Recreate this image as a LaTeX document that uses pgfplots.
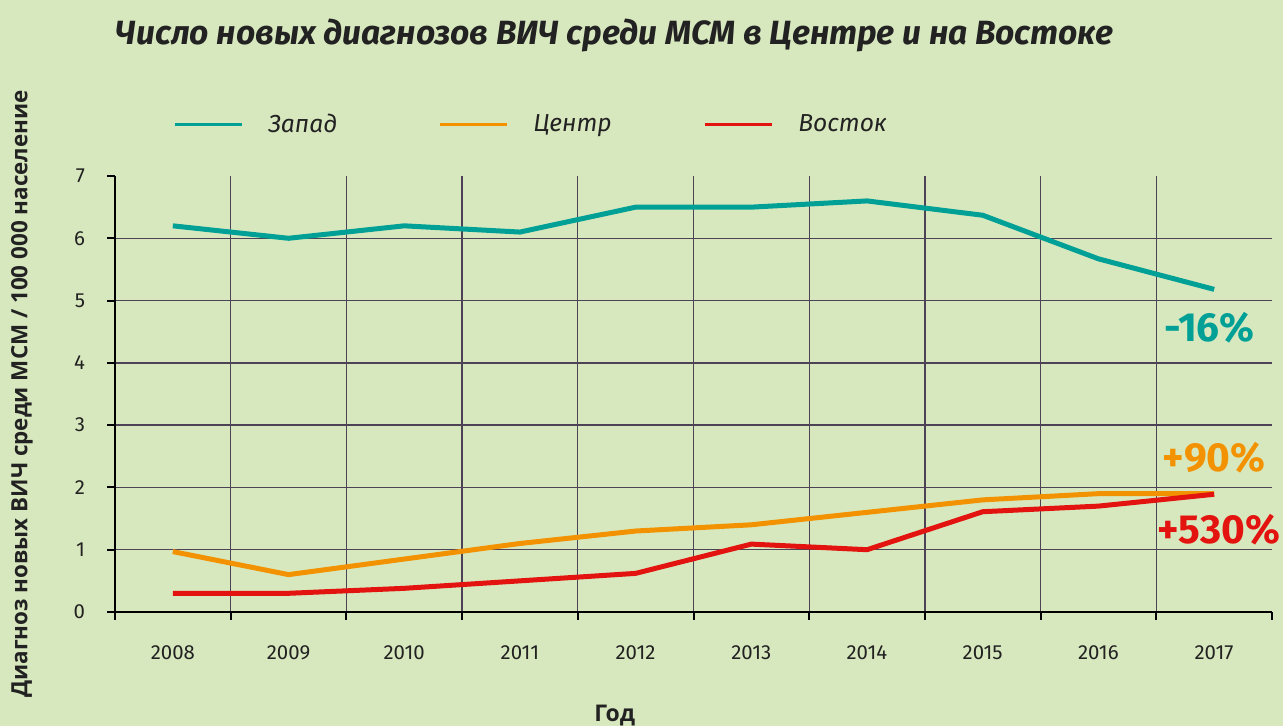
\documentclass[border=0pt]{standalone}
\usepackage{fontspec}
\usepackage{pgfplots}
\pgfplotsset{compat=1.18}
\setmainfont{Fira Sans}
\newfontfamily\lblfont{Open Sans}
\definecolor{bgc}{HTML}{D8E8BE}
\definecolor{cWest}{HTML}{00A096}
\definecolor{cCenter}{HTML}{F39200}
\definecolor{cEast}{HTML}{E3140F}
\definecolor{gridc}{HTML}{4E4257}
\definecolor{txt}{HTML}{222222}
\begin{document}
\begin{tikzpicture}
\fill[bgc] (0,0) rectangle (641.5pt,363pt);
\begin{axis}[
  scale only axis, width=578.5pt, height=218pt,
  at={(57.5pt,57pt)}, anchor=south west,
  xmin=2007.5, xmax=2017.5, ymin=0, ymax=7,
  axis lines=left,
  axis line style={-, black, line width=1pt},
  tick align=outside,
  major tick length=4pt, minor tick length=4pt,
  xtick={2008,...,2017},
  xticklabels={2008,2009,2010,2011,2012,2013,2014,2015,2016,2017},
  major x tick style={draw=none},
  minor xtick={2008.5,2009.5,2010.5,2011.5,2012.5,2013.5,2014.5,2015.5,2016.5},
  minor x tick style={black, line width=1pt},
  xminorgrids=true,
  minor grid style={gridc, line width=0.65pt},
  extra x ticks={2007.5,2017.5},
  extra x tick labels={},
  extra x tick style={grid=none, major x tick style={draw=black, line width=1pt}},
  ytick={0,1,2,3,4,5,6},
  extra y ticks={7},
  extra y tick style={grid=none},
  ymajorgrids=true,
  major grid style={gridc, line width=0.65pt},
  y tick style={black, line width=1pt},
  /pgf/number format/assume math mode=true,
  tick label style={font=\fontsize{10.2}{12}\selectfont, text=txt},
  yticklabel style={xshift=-7.5pt},
  xticklabel style={yshift=-9.5pt},
  ylabel={Диагноз новых ВИЧ среди МСМ / 100 000 население},
  ylabel style={at={(axis description cs:-0.0804,0.5)}, anchor=center, font=\lblfont\bfseries\fontsize{11.2}{12}\selectfont, text=txt},
  legend columns=3,
  legend cell align=left,
  legend style={at={(axis description cs:0.05,1.117)}, anchor=west, draw=none, fill=none,
    inner sep=0pt, font=\itshape\fontsize{12.3}{14}\selectfont, text=txt,
    nodes={text width=85pt, inner sep=0pt},
    /tikz/every odd column/.append style={column sep=12.5pt}},
  legend image code/.code={\draw[#1, line width=1.5pt] (0pt,0pt) -- (33.5pt,0pt);},
  clip=false,
]
\addplot[cWest, line width=2.5pt, line join=round] coordinates {
  (2008,6.2) (2009,6.0) (2010,6.2) (2011,6.1) (2012,6.5) (2013,6.5) (2014,6.6) (2015,6.37) (2016,5.67) (2017,5.18)};
\addlegendentry{Запад}
\addplot[cCenter, line width=2.5pt, line join=round] coordinates {
  (2008,0.97) (2009,0.6) (2010,0.85) (2011,1.1) (2012,1.3) (2013,1.4) (2014,1.6) (2015,1.8) (2016,1.9) (2017,1.9)};
\addlegendentry{Центр}
\addplot[cEast, line width=2.5pt, line join=round] coordinates {
  (2008,0.3) (2009,0.3) (2010,0.38) (2011,0.5) (2012,0.62) (2013,1.09) (2014,1.0) (2015,1.61) (2016,1.7) (2017,1.89)};
\addlegendentry{Восток}
\node[font=\bfseries\fontsize{20.3}{20}\selectfont, text=cWest] at (axis cs:2016.96,4.57) {-16\%};
\node[font=\bfseries\fontsize{20.3}{20}\selectfont, text=cCenter] at (axis cs:2017.0,2.47) {+90\%};
\node[font=\bfseries\fontsize{20.3}{20}\selectfont, text=cEast] at (axis cs:2017.04,1.32) {+530\%};
\node[font=\bfseries\itshape\fontsize{16.8}{18}\selectfont, text=txt] at (axis description cs:0.432,1.323) {Число новых диагнозов ВИЧ среди МСМ в Центре и на Востоке};
\node[font=\lblfont\bfseries\fontsize{11.5}{12}\selectfont, text=txt] at (axis description cs:0.432,-0.238) {Год};
\end{axis}
\pgfresetboundingbox
\path (0,0) rectangle (641.5pt,363pt);
\end{tikzpicture}
\end{document}
